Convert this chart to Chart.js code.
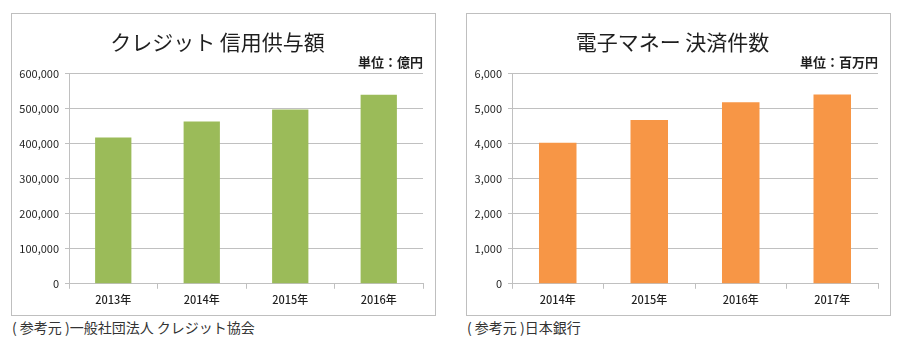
<!DOCTYPE html>
<html>
<head>
    <meta charset="utf-8">
    <script src="https://cdn.jsdelivr.net/npm/chart.js@4.4.0/dist/chart.umd.min.js"></script>
    <style>
        body {
            margin: 0;
            width: 900px;
            height: 350px;
            background: #ffffff;
            font-family: "Noto Sans CJK JP", "Noto Sans", sans-serif;
            position: relative;
        }
        .chart-box {
            position: absolute;
            top: 13px;
            width: 423px;
            height: 301px;
            border: 1px solid #bfbfbf;
        }
        #box1 { left: 11px; }
        #box2 { left: 466px; }
        .source {
            position: absolute;
            top: 317px;
            font-size: 14px;
            color: #333333;
            white-space: nowrap;
        }
    </style>
</head>
<body>
    <div class="chart-box" id="box1"><canvas id="creditChart"></canvas></div>
    <div class="chart-box" id="box2"><canvas id="emoneyChart"></canvas></div>
    <div class="source" style="left: 12px;">( 参考元 )一般社団法人 クレジット協会</div>
    <div class="source" style="left: 467px;">( 参考元 )日本銀行</div>

    <script>
        // クレジット 信用供与額（億円）
        const creditYears = ['2013年', '2014年', '2015年', '2016年'];
        const creditAmounts = [418000, 464000, 498000, 540000];

        // 電子マネー 決済件数（百万件）
        const emoneyYears = ['2014年', '2015年', '2016年', '2017年'];
        const emoneyCounts = [4030, 4680, 5190, 5410];

        const fontFamily = '"Noto Sans CJK JP", "Noto Sans", sans-serif';
        const gridColor = '#c0c0c0';
        const textColor = '#1f1f1f';

        function makeChart(id, labels, values, color, title, unit, maxValue, step, axisWidth) {
            return new Chart(document.getElementById(id), {
                type: 'bar',
                data: {
                    labels: labels,
                    datasets: [{
                        data: values,
                        backgroundColor: color,
                        categoryPercentage: 1.0,
                        barPercentage: 0.41
                    }]
                },
                options: {
                    responsive: true,
                    maintainAspectRatio: false,
                    animation: false,
                    layout: { padding: { left: 0, right: 12, bottom: 5 } },
                    plugins: {
                        legend: { display: false },
                        tooltip: { enabled: false },
                        title: {
                            display: true,
                            text: title,
                            color: textColor,
                            font: { family: fontFamily, size: 21, weight: 'normal' },
                            padding: { top: 15, bottom: 0 }
                        },
                        subtitle: {
                            display: true,
                            text: unit,
                            align: 'end',
                            color: textColor,
                            font: { family: fontFamily, size: 13, weight: 'bold' },
                            padding: { top: 0, bottom: 4 }
                        }
                    },
                    scales: {
                        x: {
                            grid: {
                                display: true,
                                drawOnChartArea: false,
                                drawTicks: true,
                                tickLength: 5,
                                color: gridColor
                            },
                            border: { color: gridColor },
                            ticks: {
                                color: textColor,
                                font: { family: fontFamily, size: 11, weight: '500' },
                                padding: 4
                            }
                        },
                        y: {
                            min: 0,
                            max: maxValue,
                            afterFit: function(scale) { scale.width = axisWidth; },
                            grid: {
                                color: gridColor,
                                drawTicks: true,
                                tickLength: 4
                            },
                            border: { color: gridColor },
                            ticks: {
                                stepSize: step,
                                color: textColor,
                                padding: 6,
                                font: { family: fontFamily, size: 11 },
                                callback: function(value) {
                                    return value.toLocaleString('en-US');
                                }
                            }
                        }
                    }
                }
            });
        }

        makeChart('creditChart', creditYears, creditAmounts, '#9bbb59',
            'クレジット 信用供与額', '単位：億円', 600000, 100000, 57);
        makeChart('emoneyChart', emoneyYears, emoneyCounts, '#f79646',
            '電子マネー 決済件数', '単位：百万円', 6000, 1000, 45);
    </script>
</body>
</html>
